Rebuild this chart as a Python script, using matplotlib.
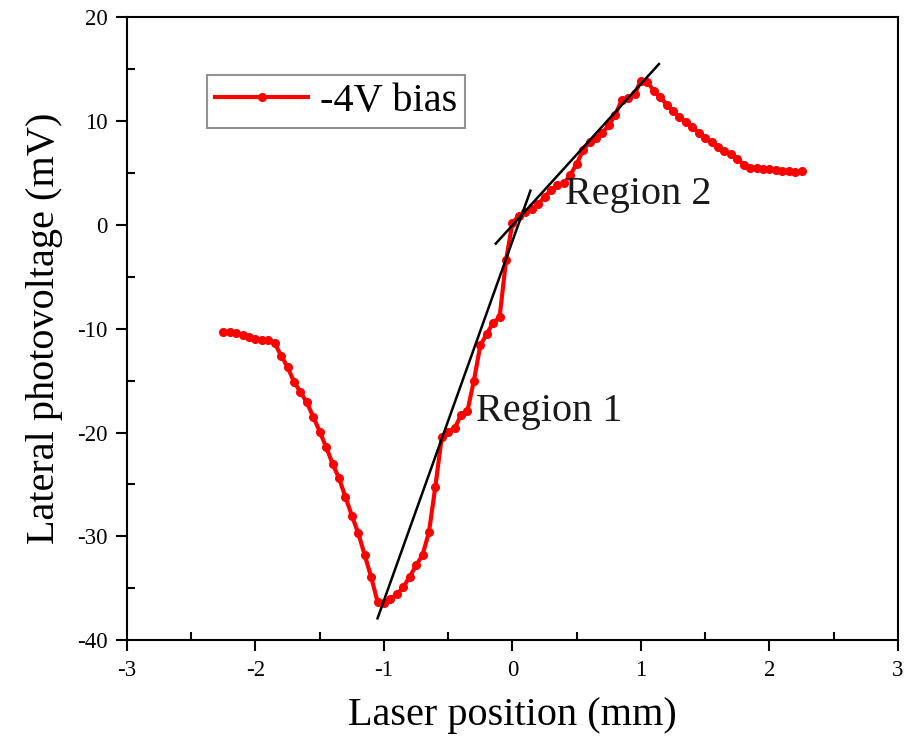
import numpy as np
import matplotlib
matplotlib.use("Agg")
import matplotlib.pyplot as plt
from matplotlib.ticker import MultipleLocator

plt.rcParams['font.family'] = ['Liberation Serif', 'DejaVu Serif']
plt.rcParams['axes.unicode_minus'] = False

# Laser position (mm), 0.05 mm steps
position = [round(-2.25 + 0.05 * i, 2) for i in range(91)]
# Lateral photovoltage (mV), -4V bias
photovoltage = [
    -10.3, -10.3, -10.4, -10.6, -10.8, -11.0, -11.1, -11.1, -11.4, -12.6,
    -13.7, -15.1, -16.1, -17.1, -18.5, -19.9, -21.4, -23.0, -24.4, -26.2,
    -28.0, -29.7, -31.8, -33.9, -36.3,
    -36.4, -36.0, -35.6, -34.9, -33.9, -32.8, -31.8, -29.6, -25.2, -20.4,
    -19.9, -19.6, -18.3, -17.9, -15.0, -11.6, -10.5, -9.4, -8.9, -3.4,
    0.2, 0.9, 1.2, 1.5, 2.0, 2.7, 3.4, 3.8, 4.0, 4.8,
    5.9, 7.2, 8.0, 8.4, 8.9, 9.6, 10.6, 12.0, 12.2, 12.6,
    13.9, 13.8, 12.9, 12.3, 11.6, 11.0, 10.4, 9.9, 9.4, 8.9,
    8.4, 8.0, 7.5, 7.1, 6.8, 6.4, 5.8, 5.5, 5.5, 5.4,
    5.4, 5.3, 5.2, 5.2, 5.1, 5.2,
]

# Linear fit lines (endpoints)
fit1_x = [-1.05, 0.14]
fit1_y = [-37.9, 3.3]
fit2_x = [-0.13, 1.14]
fit2_y = [-1.8, 15.5]

series_label = "-4V bias"
region_labels = ["Region 1", "Region 2"]
region_pos = [(-0.28, -18.0), (0.41, 2.9)]

fig = plt.figure(figsize=(9.07, 7.54), dpi=100)
ax = fig.add_axes([0.140, 0.151, 0.850, 0.826])

ax.plot(position, photovoltage, color='#ff0000', lw=3.0, marker='o',
        ms=5.5, mfc='#ff0000', mec='#ff0000', label=series_label, zorder=3)
ax.plot(fit1_x, fit1_y, color='black', lw=1.8, zorder=4)
ax.plot(fit2_x, fit2_y, color='black', lw=1.8, zorder=4)

for lab, (tx, ty) in zip(region_labels, region_pos):
    ax.text(tx, ty, lab, fontsize=29, va='center', ha='left', color='#1a1a1a')

ax.set_xlim(-3, 3)
ax.set_ylim(-40, 20)
ax.xaxis.set_major_locator(MultipleLocator(1))
ax.xaxis.set_minor_locator(MultipleLocator(0.5))
ax.yaxis.set_major_locator(MultipleLocator(10))
ax.yaxis.set_minor_locator(MultipleLocator(5))
ax.tick_params(which='major', direction='out', length=8, width=1.5,
               labelsize=16.5, top=False, right=False, pad=6)
ax.tick_params(which='minor', direction='in', length=6, width=1.5,
               top=False, right=False)
for s in ax.spines.values():
    s.set_linewidth(1.5)

ax.set_xlabel("Laser position (mm)", fontsize=29, labelpad=12)
ax.set_ylabel("Lateral photovoltage (mV)", fontsize=29, labelpad=10)

leg = ax.legend(loc='upper left', bbox_to_anchor=(0.104, 0.908), fontsize=29,
                frameon=True, fancybox=False, edgecolor='#777777',
                handlelength=2.3, handletextpad=0.3, borderpad=0.2,
                borderaxespad=0)
leg.get_frame().set_linewidth(1.5)

fig.savefig("out.png", dpi=100)
